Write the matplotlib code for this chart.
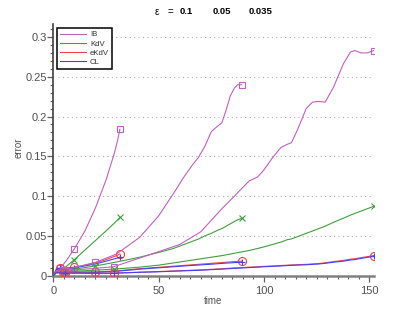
import matplotlib
matplotlib.use("Agg")
import matplotlib.pyplot as plt
from matplotlib.lines import Line2D
from matplotlib.ticker import MultipleLocator

plt.rcParams["font.family"] = ["Liberation Sans", "DejaVu Sans"]

models = ["IB", "KdV", "eKdV", "CL"]
colors = {"IB": "#c060c0", "KdV": "#3fa03f", "eKdV": "#ff4040", "CL": "#4040ff"}
markers = {"IB": "s", "KdV": "x", "eKdV": "o", "CL": "+"}
msizes = {"IB": 4.3, "KdV": 4.0, "eKdV": 5.8, "CL": 5.0}

eps_labels = ["0.1", "0.05", "0.035"]

# eps = 0.1
t_01 = [0, 1.5, 3.16, 6, 10, 15, 20, 25, 29, 30.5, 31.6]
ib_01 = [0, 0.006, 0.009, 0.018, 0.0335, 0.056, 0.085, 0.120, 0.154, 0.170, 0.184]
kdv_01 = [0, 0.005, 0.007, 0.011, 0.020, 0.032, 0.044, 0.056, 0.066, 0.070, 0.073]
ekdv_01 = [0, 0.008, 0.009, 0.0095, 0.0105, 0.013, 0.016, 0.020, 0.024, 0.0255, 0.027]
cl_01 = [0, 0.008, 0.009, 0.009, 0.0098, 0.012, 0.0145, 0.018, 0.021, 0.022, 0.023]
mark_01 = [3.16, 10, 31.6]

# eps = 0.05
t_05 = [0, 1.5, 4.47, 10, 20, 30, 41, 50, 57, 62, 66, 69, 72, 75, 78, 80, 82,
        84, 86, 87.5, 89.4]
ib_05 = [0, 0.006, 0.007, 0.010, 0.0165, 0.027, 0.048, 0.075, 0.103, 0.124,
         0.139, 0.149, 0.163, 0.181, 0.188, 0.192, 0.208, 0.226, 0.236, 0.240,
         0.240]
kdv_05 = [0, 0.005, 0.006, 0.008, 0.012, 0.017, 0.023, 0.029, 0.034, 0.039,
          0.043, 0.046, 0.050, 0.053, 0.057, 0.059, 0.062, 0.065, 0.068, 0.070,
          0.072]
ekdv_05 = [0, 0.005, 0.005, 0.0045, 0.0045, 0.0058, 0.0085, 0.0103, 0.0117,
           0.0127, 0.0135, 0.0141, 0.0147, 0.0153, 0.0159, 0.0163, 0.0167,
           0.0171, 0.0175, 0.0178, 0.018]
cl_05 = [0, 0.0045, 0.0045, 0.004, 0.004, 0.0053, 0.008, 0.0097, 0.011, 0.012,
         0.0127, 0.0132, 0.0137, 0.0142, 0.0148, 0.0152, 0.0156, 0.0159,
         0.0162, 0.0164, 0.0165]
mark_05 = [4.47, 20, 89.4]

# eps = 0.035
t_035 = [0, 1.5, 5.35, 15, 28.6, 41, 50, 60, 70, 80, 86, 90, 93, 97, 100, 104,
         108, 111, 113, 116, 120, 123, 126, 129, 133, 137.6, 141, 143, 146, 149,
         152]
ib_035 = [0, 0.005, 0.006, 0.008, 0.011, 0.022, 0.030, 0.039, 0.055, 0.084,
          0.100, 0.111, 0.119, 0.124, 0.133, 0.148, 0.161, 0.165, 0.167, 0.184,
          0.210, 0.218, 0.219, 0.218, 0.237, 0.266, 0.281, 0.283, 0.280, 0.280,
          0.283]
kdv_035 = [0, 0.004, 0.005, 0.006, 0.008, 0.0105, 0.013, 0.017, 0.021, 0.025,
           0.028, 0.030, 0.0315, 0.034, 0.036, 0.039, 0.042, 0.045, 0.046,
           0.049, 0.053, 0.056, 0.059, 0.062, 0.067, 0.072, 0.076, 0.078,
           0.081, 0.084, 0.087]
ekdv_035 = [0, 0.004, 0.0035, 0.003, 0.003, 0.0042, 0.005, 0.006, 0.007,
            0.0085, 0.0095, 0.010, 0.0105, 0.011, 0.0115, 0.012, 0.0125, 0.013,
            0.0133, 0.0136, 0.014, 0.0145, 0.015, 0.016, 0.0175, 0.019, 0.0205,
            0.021, 0.0225, 0.0237, 0.025]
cl_035 = [0, 0.0035, 0.003, 0.0028, 0.0028, 0.004, 0.0047, 0.0057, 0.0067,
          0.008, 0.009, 0.0095, 0.010, 0.0105, 0.011, 0.0115, 0.012, 0.0125,
          0.0128, 0.0131, 0.0135, 0.014, 0.0145, 0.0153, 0.0167, 0.018, 0.0195,
          0.020, 0.0215, 0.0228, 0.024]
mark_035 = [5.35, 28.6, 152]

runs = [
    (t_01, mark_01, {"IB": ib_01, "KdV": kdv_01, "eKdV": ekdv_01, "CL": cl_01}),
    (t_05, mark_05, {"IB": ib_05, "KdV": kdv_05, "eKdV": ekdv_05, "CL": cl_05}),
    (t_035, mark_035, {"IB": ib_035, "KdV": kdv_035, "eKdV": ekdv_035, "CL": cl_035}),
]

fig = plt.figure(figsize=(4.12, 3.10), dpi=100)
ax = fig.add_axes([53.3 / 412, 1 - 275.5 / 310, 320.3 / 412, 252.0 / 310])

for t, marks, errs in runs:
    idx = [t.index(m) for m in marks]
    for m in models:
        ax.plot(t, errs[m], color=colors[m], lw=0.8, marker=markers[m],
                markevery=idx, ms=msizes[m], mfc="none", mew=0.8, zorder=3)

ax.set_xlim(0, 152)
ax.set_ylim(0, 0.317)
ax.xaxis.set_major_locator(MultipleLocator(50))
ax.xaxis.set_minor_locator(MultipleLocator(5))
ax.yaxis.set_minor_locator(MultipleLocator(0.01))
ax.set_yticks([0, 0.05, 0.1, 0.15, 0.2, 0.25, 0.3])
ax.set_yticklabels(["0", "0.05", "0.1", "0.15", "0.2", "0.25", "0.3"])

ax.hlines([0.05, 0.1, 0.15, 0.2, 0.25, 0.3], 2, 152, colors="#b0b0b0",
          linestyles=(0, (1, 3)), lw=0.8, zorder=1)

for s in ["top", "right"]:
    ax.spines[s].set_visible(False)
ax.spines["left"].set_color("#404040")
ax.spines["left"].set_linewidth(1.2)
ax.spines["bottom"].set_color("#808080")
ax.spines["bottom"].set_linewidth(1.8)
ax.tick_params(which="both", direction="out", colors="#606060",
               labelsize=8, labelcolor="#505050")
ax.tick_params(which="major", length=4, width=0.9)
ax.tick_params(which="minor", length=2.3, width=0.8)
ax.tick_params(axis="y", pad=0.8)
ax.tick_params(axis="x", pad=3.5)

fig.text(213 / 412, 1 - 301 / 310, "time", ha="center", va="center",
         fontsize=7, color="#505050")
fig.text(18.5 / 412, 1 - 148 / 310, "error", ha="center", va="center",
         rotation=90, fontsize=7, color="#505050")

# title: epsilon values
ty = 1 - 12 / 310
fig.text(157 / 412, ty, "ε", ha="center", va="center", fontsize=7)
fig.text(170 / 412, ty, "=", ha="center", va="center", fontsize=7)
for x, lab in zip([186, 222, 260.5], eps_labels):
    fig.text(x / 412, ty, lab, ha="center", va="center", fontsize=6.8,
             fontweight="bold")

handles = [Line2D([], [], color=colors[m], lw=0.8) for m in models]
leg = ax.legend(handles, models, loc="upper left",
                bbox_to_anchor=(56.7 / 412, 1 - 27.7 / 310),
                bbox_transform=fig.transFigure, borderaxespad=0,
                fontsize=5.6, handlelength=3.4, handletextpad=0.45,
                labelspacing=0.22, borderpad=0.42, fancybox=False,
                framealpha=1, edgecolor="black")
leg.get_frame().set_linewidth(1.1)
for txt in leg.get_texts():
    txt.set_color("#303030")

fig.savefig("out.png", dpi=100)
